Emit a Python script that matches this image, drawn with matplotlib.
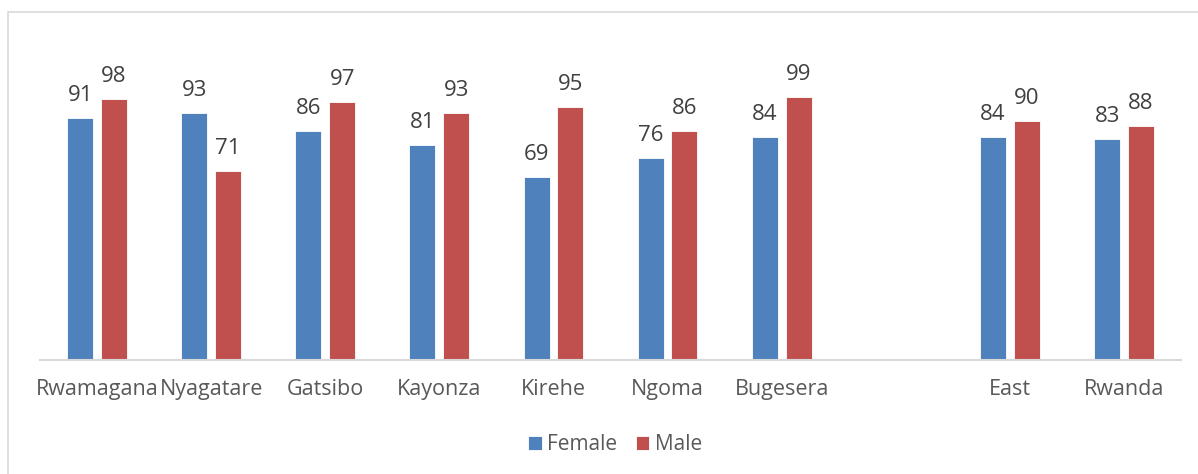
import matplotlib
matplotlib.use("Agg")
import matplotlib.pyplot as plt
from matplotlib.patches import Rectangle
import numpy as np

categories = ["Rwamagana", "Nyagatare", "Gatsibo", "Kayonza", "Kirehe", "Ngoma", "Bugesera", "", "East", "Rwanda"]
female = [91, 93, 86, 81, 69, 76, 84, None, 84, 83]
male = [98, 71, 97, 93, 95, 86, 99, None, 90, 88]

FEMALE_C = "#4F81BD"
MALE_C = "#C0504D"
TXT = "#595959"
LBL = "#404040"
FONT = ["Open Sans", "DejaVu Sans"]

W, H = 1198, 474
fig = plt.figure(figsize=(W / 100, H / 100), dpi=100)

# chart border
fig.patches.append(Rectangle((8 / W, -0.1), 1.2, 1 - 12 / H + 0.1, transform=fig.transFigure,
                             fill=False, edgecolor="#D9D9D9", linewidth=1.2))

ax_left, ax_right = 40 / W, 1181 / W
ax_bottom = 1 - 360 / H
ax_top = 1 - 41 / H
ax = fig.add_axes([ax_left, ax_bottom, ax_right - ax_left, ax_top - ax_bottom])

x = np.arange(len(categories))
bw = 0.228
off = 0.148
for i, (f, m) in enumerate(zip(female, male)):
    if f is None:
        continue
    ax.bar(x[i] - off, f, width=bw, color=FEMALE_C, edgecolor="white", linewidth=0.6,
           label="Female" if i == 0 else None)
    ax.bar(x[i] + off, m, width=bw, color=MALE_C, edgecolor="white", linewidth=0.6,
           label="Male" if i == 0 else None)
    ax.text(x[i] - off, f + 6.4, str(f), ha="center", va="baseline", fontsize=16,
            color=LBL, family=FONT)
    ax.text(x[i] + off, m + 6.4, str(m), ha="center", va="baseline", fontsize=16,
            color=LBL, family=FONT)

ax.set_xlim(-0.5, len(categories) - 0.5)
ax.set_ylim(0, 120)
ax.set_xticks(x)
ax.set_xticklabels(categories, fontsize=15.5, color=TXT, family=FONT)
ax.tick_params(axis="x", length=0, pad=14)
ax.set_yticks([])
for s in ["top", "right", "left"]:
    ax.spines[s].set_visible(False)
ax.spines["bottom"].set_color("#D9D9D9")
ax.spines["bottom"].set_linewidth(1.5)

leg = fig.legend(loc="center", bbox_to_anchor=(615 / W, 1 - 445 / H), ncol=2, frameon=False,
                 prop={"family": FONT, "size": 15}, handlelength=0.65, handleheight=0.65,
                 handletextpad=0.25, columnspacing=0.9)
for t in leg.get_texts():
    t.set_color(TXT)

fig.savefig("out.png", dpi=100)
